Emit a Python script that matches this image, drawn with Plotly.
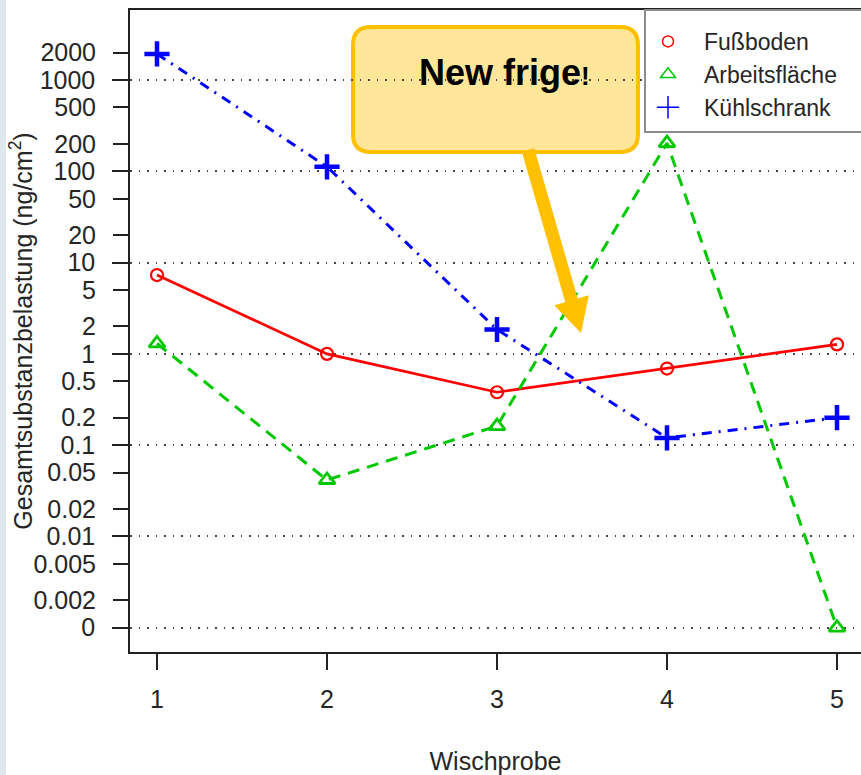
import math
import plotly.graph_objects as go

# Wipe-sample measurements (ng/cm²) per sampling spot
samples = [1, 2, 3, 4, 5]
fussboden = [7.3, 1.0, 0.38, 0.69, 1.27]
arbeitsflaeche = [1.3, 0.0415, 0.162, 204, 0]
kuehlschrank = [1930, 112, 1.85, 0.12, 0.2]

series_names = ["Fußboden", "Arbeitsfläche", "Kühlschrank"]

# Log axis: decades carry the dotted grid, the 2/5 steps are labelled only
decade_ticks = [0.001, 0.01, 0.1, 1, 10, 100, 1000]
decade_labels = ["0", "0.01", "0.1", "1", "10", "100", "1000"]
step_ticks = [0.002, 0.005, 0.02, 0.05, 0.2, 0.5, 2, 5, 20, 50, 200, 500, 2000]
step_labels = ["0.002", "0.005", "0.02", "0.05", "0.2", "0.5", "2", "5",
               "20", "50", "200", "500", "2000"]

ZERO_FLOOR = 0.001  # zero readings are drawn on the "0" line of the log axis


def on_log(values):
    return [v if v > 0 else ZERO_FLOOR for v in values]


W, H = 861, 775
ML, MR, MT, MB = 130, 0, 10, 123
PW, PH = W - ML - MR, H - MT - MB


def px_x(px):
    return (px - ML) / PW


def px_y(py):
    return (MT + PH - py) / PH


FONT = "Liberation Sans, Arial, sans-serif"
TXT = "#262626"
Y_RANGE = [-3.266, 3.767]
X_RANGE = [0.8412, 5.1412]

fig = go.Figure()

fig.add_trace(go.Scatter(
    x=samples, y=on_log(fussboden), name=series_names[0], mode="lines+markers",
    line=dict(color="#FF0000", width=2.7, dash="solid"),
    marker=dict(symbol="circle-open", size=12, color="#FF0000", line=dict(width=2.2)),
    showlegend=False,
))
fig.add_trace(go.Scatter(
    x=samples, y=on_log(arbeitsflaeche), name=series_names[1], mode="lines+markers",
    line=dict(color="#00C800", width=3, dash="12px,8px"),
    marker=dict(symbol="triangle-up-open", size=14, color="#00C800", line=dict(width=2.8)),
    showlegend=False,
))
fig.add_trace(go.Scatter(
    x=samples, y=on_log(kuehlschrank), name=series_names[2], mode="lines+markers",
    line=dict(color="#0000FF", width=3, dash="10px,7px,2px,7px"),
    marker=dict(symbol="cross-thin-open", size=18, color="#0000FF", line=dict(width=4.5)),
    showlegend=False,
))

# Legend keys: symbols only
legend_styles = [
    ("circle-open", "#FF0000", 11),
    ("triangle-up-open", "#00C800", 13),
    ("cross-thin-open", "#0000FF", 16),
]
for name, (sym, col, sz) in zip(series_names, legend_styles):
    fig.add_trace(go.Scatter(
        x=[None], y=[None], name=name, mode="markers", yaxis="y2",
        marker=dict(symbol=sym, size=sz, color=col, line=dict(width=1.5, color=col)),
    ))

shapes = [
    # light strip at the page's left edge
    dict(type="rect", xref="paper", yref="paper",
         x0=px_x(0), x1=px_x(6), y0=px_y(H), y1=px_y(0),
         fillcolor="#DFE8EC", line=dict(width=0), layer="below"),
    # legend frame
    dict(type="rect", xref="paper", yref="paper",
         x0=px_x(645), x1=px_x(875), y0=px_y(132), y1=px_y(10),
         fillcolor="white", line=dict(color="#8C8C8C", width=2), layer="above"),
]

# Rounded callout box
bx0, bx1, by0, by1, r = 353, 638, 27, 152, 18
path = (
    f"M {px_x(bx0 + r)},{px_y(by0)} L {px_x(bx1 - r)},{px_y(by0)} "
    f"Q {px_x(bx1)},{px_y(by0)} {px_x(bx1)},{px_y(by0 + r)} "
    f"L {px_x(bx1)},{px_y(by1 - r)} "
    f"Q {px_x(bx1)},{px_y(by1)} {px_x(bx1 - r)},{px_y(by1)} "
    f"L {px_x(bx0 + r)},{px_y(by1)} "
    f"Q {px_x(bx0)},{px_y(by1)} {px_x(bx0)},{px_y(by1 - r)} "
    f"L {px_x(bx0)},{px_y(by0 + r)} "
    f"Q {px_x(bx0)},{px_y(by0)} {px_x(bx0 + r)},{px_y(by0)} Z"
)
shapes.append(dict(type="path", xref="paper", yref="paper", path=path,
                   fillcolor="#FFE699", line=dict(color="#FFC000", width=4),
                   layer="below"))

# Callout pointer: thick arrow from the box down towards sample 3.5
tail = (528, 150)
tip = (581, 333)
dx, dy = tip[0] - tail[0], tip[1] - tail[1]
L = math.hypot(dx, dy)
ux, uy = dx / L, dy / L
nx, ny = -uy, ux
shaft_hw, head_hw, head_len = 6.5, 18, 34
neck = (tip[0] - ux * head_len, tip[1] - uy * head_len)
arrow_pts = [
    (tail[0] + nx * shaft_hw, tail[1] + ny * shaft_hw),
    (neck[0] + nx * shaft_hw, neck[1] + ny * shaft_hw),
    (neck[0] + nx * head_hw, neck[1] + ny * head_hw),
    tip,
    (neck[0] - nx * head_hw, neck[1] - ny * head_hw),
    (neck[0] - nx * shaft_hw, neck[1] - ny * shaft_hw),
    (tail[0] - nx * shaft_hw, tail[1] - ny * shaft_hw),
]
arrow_path = "M " + " L ".join(f"{px_x(a)},{px_y(b)}" for a, b in arrow_pts) + " Z"
shapes.append(dict(type="path", xref="paper", yref="paper", path=arrow_path,
                   fillcolor="#FFC000", line=dict(width=0), layer="above"))

annotations = [
    dict(xref="paper", yref="paper", x=px_x(505), y=px_y(72),
         text="New frige<span style='font-size:26px'>!</span>",
         showarrow=False, xanchor="center", yanchor="middle",
         font=dict(family=FONT, size=36, color="black", weight="bold")),
]

axis_common = dict(
    ticks="outside", ticklen=16, tickwidth=1.5, tickcolor="#222",
    tickfont=dict(family=FONT, size=25, color=TXT),
)

fig.update_layout(
    width=W, height=H,
    margin=dict(l=ML, r=MR, t=MT, b=MB),
    paper_bgcolor="white", plot_bgcolor="white",
    font=dict(family=FONT, size=25, color=TXT),
    shapes=shapes, annotations=annotations,
    xaxis=dict(
        range=X_RANGE, tickmode="array", tickvals=samples,
        ticktext=[str(s) for s in samples],
        showline=True, linecolor="#222", linewidth=1.5, mirror=True,
        showgrid=False, zeroline=False, ticklabelstandoff=8,
        title=dict(text="Wischprobe", font=dict(family=FONT, size=25, color=TXT),
                   standoff=44),
        **axis_common,
    ),
    yaxis=dict(
        type="log", range=Y_RANGE, tickmode="array",
        tickvals=decade_ticks, ticktext=decade_labels,
        showline=True, linecolor="#222", linewidth=1.5, mirror=False,
        showgrid=True, gridcolor="#444", gridwidth=1.5, griddash="1.5px,7px",
        zeroline=False, ticklabelstandoff=12,
        title=dict(text="Gesamtsubstanzbelastung (ng/cm<sup>2</sup>)",
                   font=dict(family=FONT, size=25, color=TXT), standoff=0),
        **axis_common,
    ),
    yaxis2=dict(
        type="log", range=Y_RANGE, overlaying="y", side="left",
        tickmode="array", tickvals=step_ticks, ticktext=step_labels,
        showline=False, showgrid=False, zeroline=False, ticklabelstandoff=12,
        **axis_common,
    ),
    legend=dict(
        x=px_x(632), y=px_y(20), xanchor="left", yanchor="top",
        bgcolor="rgba(0,0,0,0)", borderwidth=0,
        font=dict(family=FONT, size=23, color=TXT),
        itemwidth=62, tracegroupgap=0,
    ),
)

fig.write_html("out.html")
